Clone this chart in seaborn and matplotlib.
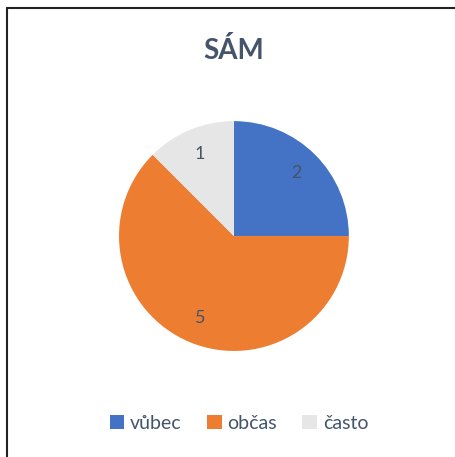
"""Pie chart 'SÁM' recreated with seaborn/matplotlib."""

import matplotlib
matplotlib.use("Agg")
import matplotlib.pyplot as plt
from matplotlib.lines import Line2D
from matplotlib.patches import Patch
import seaborn as sns

# data
categories = ["vůbec", "občas", "často"]
counts = [2, 5, 1]
colors = ["#4472C4", "#ED7D31", "#E7E6E6"]

sns.set_theme(style="white")
plt.rcParams["font.family"] = ["Lato", "DejaVu Sans"]

text_color = "#44546A"

fig = plt.figure(figsize=(4.56, 4.57), dpi=100)
ax = fig.add_axes([0.261, 0.232, 0.504, 0.503])

wedges, texts = ax.pie(
    counts,
    colors=colors,
    startangle=90,
    counterclock=False,
    labels=[str(c) for c in counts],
    labeldistance=0.77,
    wedgeprops={"linewidth": 0},
    textprops={"fontsize": 13, "color": text_color},
)
for t in texts:
    t.set_ha("center")
    t.set_va("center")
ax.set_xlim(-1, 1)
ax.set_ylim(-1, 1)

fig.text(0.513, 0.89, "SÁM", ha="center", va="center",
         fontsize=20, fontweight="bold", color=text_color)

handles = [Patch(facecolor=c, edgecolor="none") for c in colors]
fig.legend(handles, categories, loc="center", bbox_to_anchor=(0.524, 0.074),
           ncol=3, frameon=False, fontsize=14, labelcolor=text_color,
           handlelength=0.75, handleheight=0.75, handletextpad=0.3,
           columnspacing=1.3)

# chart border (left and top visible)
x0 = 7.5 / 456
y0 = 1 - 7.5 / 457
fig.add_artist(Line2D([x0, x0], [0, y0], color="#222222", linewidth=1.5))
fig.add_artist(Line2D([x0, 1], [y0, y0], color="#222222", linewidth=1.5))

fig.savefig("out.png", dpi=100)
